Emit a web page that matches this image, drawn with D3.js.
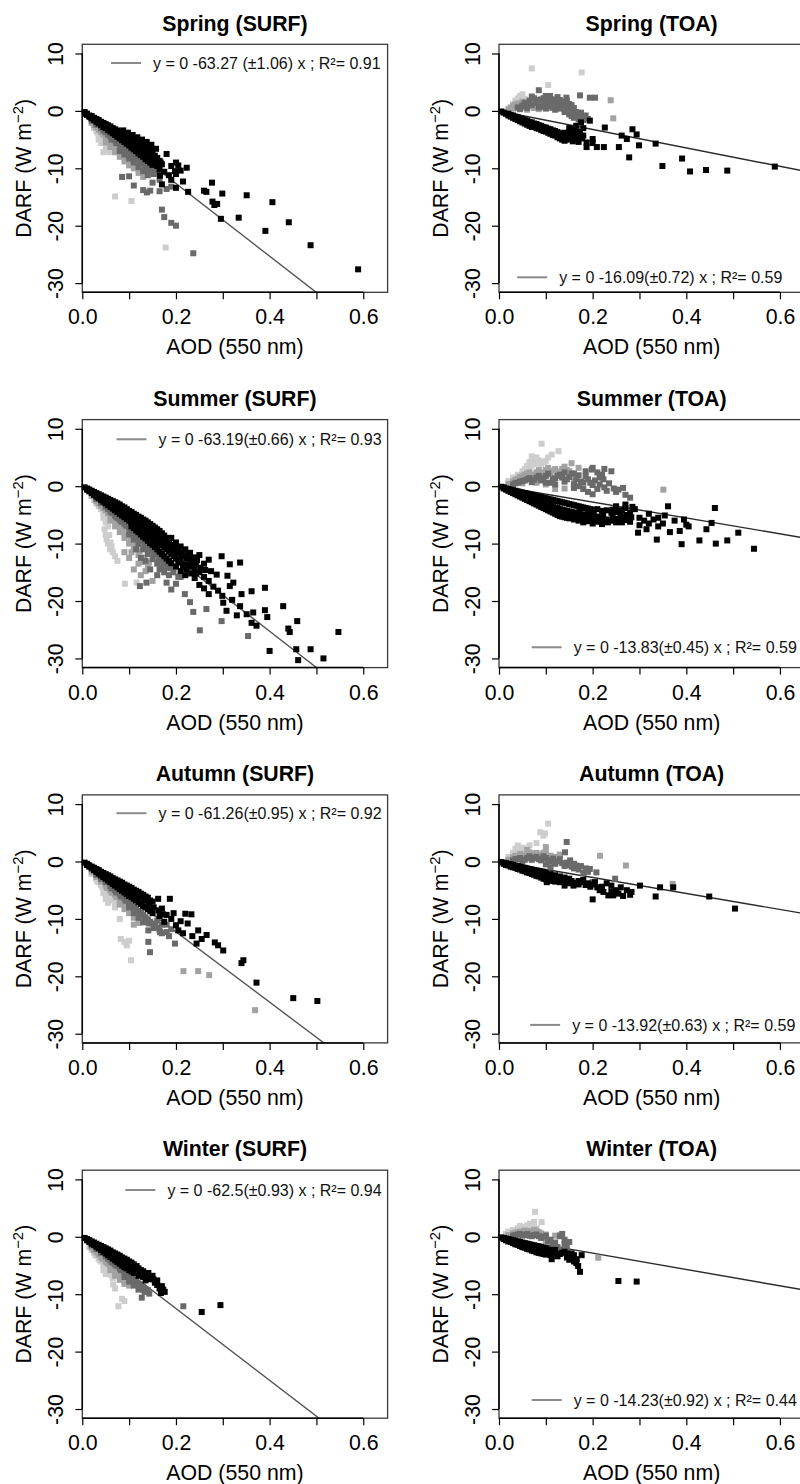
<!DOCTYPE html>
<html><head><meta charset="utf-8">
<script src="https://cdn.jsdelivr.net/npm/d3@7"></script>
<style>
body{margin:0;background:#fff;}
svg{display:block;font-family:"Liberation Sans",Arial,Helvetica,sans-serif;}
</style>
</head><body>
<svg id="chart" width="800" height="1484"></svg>
<script>
// ---------------- DATA ----------------
const seasons = ["Spring", "Summer", "Autumn", "Winter"];
const levels = ["SURF", "TOA"];
const slopes = [[-63.27, -16.09], [-63.19, -13.83], [-61.26, -13.92], [-62.5, -14.23]];
const legendLabels = [
  ["y = 0 -63.27 (±1.06) x ; R²= 0.91", "y = 0 -16.09(±0.72) x ; R²= 0.59"],
  ["y = 0 -63.19(±0.66) x ; R²= 0.93", "y = 0 -13.83(±0.45) x ; R²= 0.59"],
  ["y = 0 -61.26(±0.95) x ; R²= 0.92", "y = 0 -13.92(±0.63) x ; R²= 0.59"],
  ["y = 0 -62.5(±0.93) x ; R²= 0.94", "y = 0 -14.23(±0.92) x ; R²= 0.44"]
];
const xTicks = [0.0, 0.1, 0.2, 0.3, 0.4, 0.5, 0.6];
const xTickLabels = ["0.0", "", "0.2", "", "0.4", "", "0.6"];
const yTicks = [10, 0, -10, -20, -30];
const yTickLabels = ["10", "0", "-10", "-20", "-30"];
const xTitle = "AOD (550 nm)";
const yTitle = "DARF (W m";
const yTitleSup = "−2";

// groups: g1 = lightest grey, g2 = grey, g3 = dark grey, g4 = black
const springSurfG1 = [[0.025,-3.0],[0.03,-3.5],[0.035,-4.0],[0.04,-4.6],[0.045,-5.1],[0.05,-5.7],[0.055,-6.2],[0.06,-6.7],[0.04,-5.6],[0.05,-6.8],[0.035,-5.0],[0.045,-7.2],[0.07,-14.9],[0.105,-15.7],[0.178,-23.8],[0.0325,-3.8],[0.0425,-4.9],[0.0525,-6.0],[0.058,-7.2]];
const springSurfG2 = [[0.02,-2.1],[0.025,-2.5],[0.03,-2.9],[0.035,-3.3],[0.04,-3.7],[0.045,-4.1],[0.05,-4.5],[0.055,-4.9],[0.06,-5.3],[0.065,-5.7],[0.07,-6.1],[0.075,-6.5],[0.08,-6.9],[0.085,-7.4],[0.09,-7.8],[0.095,-8.2],[0.1,-8.6],[0.05,-5.5],[0.06,-6.3],[0.07,-7.2],[0.08,-8.0],[0.09,-8.8],[0.1,-9.5],[0.11,-10.0],[0.12,-10.8],[0.13,-11.5],[0.0525,-4.8],[0.0625,-5.6],[0.0725,-6.5],[0.0825,-7.3],[0.0925,-8.3],[0.1025,-9.0],[0.1125,-9.5]];
const springSurfG3 = [[0.02,-1.7],[0.03,-2.4],[0.04,-3.0],[0.045,-3.4],[0.05,-3.7],[0.055,-4.1],[0.06,-4.4],[0.065,-4.8],[0.07,-5.1],[0.075,-5.4],[0.08,-5.8],[0.085,-6.1],[0.09,-6.4],[0.095,-6.8],[0.1,-7.0],[0.105,-7.4],[0.11,-7.7],[0.115,-8.1],[0.12,-8.4],[0.125,-8.7],[0.13,-9.1],[0.135,-9.4],[0.14,-9.8],[0.145,-10.2],[0.15,-10.5],[0.155,-10.9],[0.08,-7.0],[0.09,-7.6],[0.1,-8.3],[0.11,-9.0],[0.12,-9.8],[0.13,-10.5],[0.14,-11.2],[0.085,-11.5],[0.1,-11.4],[0.11,-13.0],[0.13,-13.8],[0.138,-14.2],[0.145,-13.9],[0.165,-14.0],[0.18,-13.6],[0.19,-13.2],[0.17,-17.2],[0.175,-18.5],[0.19,-19.5],[0.2,-20.0],[0.237,-24.8],[0.165,-12.0],[0.15,-12.5],[0.0625,-5.0],[0.0725,-5.6],[0.0825,-6.3],[0.0925,-6.9],[0.1025,-7.6],[0.1125,-8.2],[0.1225,-8.9],[0.1325,-9.6],[0.1425,-10.4],[0.1525,-11.0],[0.16,-10.2],[0.165,-10.8],[0.155,-9.6],[0.145,-9.0],[0.135,-8.2]];
const springSurfG4 = [[0.005,-0.2],[0.01,-0.5],[0.01,-0.7],[0.015,-0.8],[0.015,-1.0],[0.02,-0.9],[0.02,-1.3],[0.025,-1.2],[0.025,-1.6],[0.03,-1.4],[0.03,-1.9],[0.035,-1.6],[0.035,-2.2],[0.04,-1.9],[0.04,-2.5],[0.045,-2.1],[0.045,-2.8],[0.05,-2.3],[0.05,-3.0],[0.055,-2.5],[0.055,-3.3],[0.06,-2.7],[0.06,-3.6],[0.065,-3.0],[0.065,-3.9],[0.07,-3.2],[0.07,-4.2],[0.075,-3.4],[0.075,-4.5],[0.08,-3.6],[0.08,-4.8],[0.085,-3.9],[0.085,-5.1],[0.09,-4.1],[0.09,-5.4],[0.09,-4.7],[0.095,-4.3],[0.095,-5.7],[0.1,-4.5],[0.1,-5.2],[0.1,-6.0],[0.105,-4.7],[0.105,-5.6],[0.105,-6.4],[0.11,-5.0],[0.11,-6.0],[0.11,-6.7],[0.115,-5.2],[0.115,-6.3],[0.115,-7.0],[0.12,-5.4],[0.12,-6.5],[0.12,-7.4],[0.125,-5.7],[0.125,-6.8],[0.125,-7.7],[0.13,-5.9],[0.13,-7.1],[0.13,-8.0],[0.135,-6.2],[0.135,-7.4],[0.135,-8.4],[0.14,-6.4],[0.14,-7.7],[0.14,-8.7],[0.145,-6.8],[0.145,-8.0],[0.145,-9.0],[0.15,-7.0],[0.15,-8.4],[0.15,-9.4],[0.155,-7.8],[0.155,-9.0],[0.16,-8.2],[0.16,-9.6],[0.165,-8.7],[0.165,-10.2],[0.17,-9.3],[0.18,-7.5],[0.19,-9.6],[0.2,-9.0],[0.205,-9.5],[0.21,-10.4],[0.223,-9.9],[0.198,-10.5],[0.2,-11.0],[0.166,-11.3],[0.175,-10.6],[0.185,-11.2],[0.19,-12.0],[0.226,-14.1],[0.2,-13.4],[0.26,-13.9],[0.265,-14.1],[0.277,-12.5],[0.278,-15.8],[0.282,-16.4],[0.288,-16.2],[0.296,-18.8],[0.299,-14.4],[0.334,-18.6],[0.351,-14.7],[0.391,-20.9],[0.406,-15.9],[0.441,-19.4],[0.4875,-23.4],[0.589,-27.6],[0.215,-12.3],[0.17,-12.8],[0.0075,-0.5],[0.0175,-1.1],[0.0275,-1.6],[0.0375,-2.0],[0.0475,-2.5],[0.0575,-2.9],[0.0675,-3.4],[0.0775,-3.9],[0.0875,-4.4],[0.0975,-5.0],[0.1075,-5.3],[0.1175,-5.8],[0.1275,-6.3],[0.1375,-6.8],[0.1475,-7.4],[0.0875,-3.4],[0.0975,-3.8],[0.1075,-4.2],[0.1175,-4.6],[0.1275,-5.0],[0.1375,-5.4],[0.1475,-5.9],[0.1575,-6.6],[0.1575,-8.5],[0.1675,-9.0]];

const springToaG1 = [[0.03,1.2],[0.035,1.8],[0.04,2.2],[0.045,2.6],[0.05,2.9],[0.055,2.1],[0.06,1.7],[0.04,1.5],[0.07,7.4],[0.105,4.5],[0.1765,6.7],[0.045,1.4],[0.05,2.2],[0.035,1.0]];
const springToaG2 = [[0.02,0.3],[0.025,0.6],[0.03,0.4],[0.03,0.9],[0.035,1.1],[0.04,1.3],[0.045,0.8],[0.05,1.6],[0.055,0.6],[0.06,1.2],[0.065,0.8],[0.07,1.5],[0.075,0.5],[0.08,0.9],[0.085,0.3],[0.09,1.3],[0.1,0.9],[0.11,0.5],[0.173,-1.2],[0.2385,1.85],[0.244,-1.3],[0.16,-0.3],[0.04,0.5],[0.05,0.7],[0.06,0.2],[0.065,1.4],[0.075,1.0],[0.085,1.1],[0.095,0.6]];
const springToaG3 = [[0.04,0.6],[0.05,0.9],[0.055,1.4],[0.06,0.5],[0.065,1.8],[0.07,1.0],[0.075,2.2],[0.08,1.4],[0.085,3.6],[0.09,0.8],[0.09,2.0],[0.095,1.2],[0.1,2.6],[0.1,0.4],[0.105,1.7],[0.109,2.6],[0.11,0.9],[0.115,1.5],[0.12,0.2],[0.12,2.0],[0.125,1.0],[0.13,0.4],[0.13,1.5],[0.135,0.9],[0.14,-0.2],[0.144,2.3],[0.145,0.6],[0.15,-0.6],[0.155,-0.9],[0.16,-1.2],[0.165,-0.5],[0.17,-1.5],[0.173,2.7],[0.18,-1.1],[0.194,2.3],[0.205,2.3],[0.15,1.2],[0.14,1.6],[0.045,0.3],[0.06,1.0],[0.07,2.5],[0.08,1.9],[0.085,0.6],[0.095,2.2],[0.1,1.5],[0.105,0.9],[0.11,2.0],[0.115,0.6],[0.12,1.4],[0.125,2.4],[0.13,1.9],[0.135,1.3],[0.14,0.9],[0.145,1.8],[0.15,0.4],[0.155,0.0],[0.155,1.0],[0.16,0.5],[0.165,-0.2],[0.17,-0.8],[0.175,-0.3],[0.18,-1.6],[0.185,-0.8],[0.19,-1.4]];
const springToaG4 = [[0.005,-0.1],[0.01,-0.3],[0.015,-0.5],[0.02,-0.5],[0.02,-0.8],[0.025,-0.7],[0.025,-1.0],[0.03,-0.8],[0.03,-1.2],[0.035,-1.0],[0.035,-1.4],[0.04,-1.1],[0.04,-1.6],[0.045,-1.3],[0.045,-1.8],[0.05,-1.4],[0.05,-2.0],[0.055,-1.6],[0.055,-2.2],[0.06,-1.7],[0.06,-2.4],[0.065,-1.9],[0.065,-2.6],[0.07,-2.0],[0.07,-2.8],[0.075,-2.2],[0.075,-2.6],[0.08,-2.3],[0.08,-3.0],[0.085,-2.5],[0.085,-3.1],[0.09,-2.6],[0.09,-3.3],[0.095,-2.8],[0.095,-3.5],[0.1,-2.9],[0.1,-3.6],[0.105,-3.1],[0.105,-3.8],[0.11,-3.2],[0.11,-4.0],[0.115,-3.4],[0.115,-4.2],[0.12,-3.5],[0.12,-4.3],[0.125,-3.7],[0.125,-4.6],[0.13,-3.9],[0.13,-4.8],[0.135,-4.1],[0.135,-5.0],[0.14,-3.8],[0.14,-5.2],[0.145,-4.4],[0.15,-4.0],[0.15,-5.0],[0.155,-4.6],[0.16,-3.2],[0.16,-4.4],[0.165,-2.6],[0.17,-3.6],[0.173,-3.8],[0.18,-4.3],[0.187,-5.5],[0.187,-6.3],[0.194,-1.7],[0.2,-4.9],[0.209,-6.3],[0.2,-5.6],[0.224,-6.3],[0.226,-2.9],[0.256,-6.3],[0.262,-4.3],[0.273,-4.9],[0.278,-8.1],[0.285,-3.2],[0.294,-4.1],[0.299,-6.0],[0.3345,-5.7],[0.349,-9.6],[0.391,-8.3],[0.408,-10.55],[0.442,-10.3],[0.4875,-10.4],[0.589,-9.7],[0.18,-3.0],[0.165,-4.9],[0.175,-2.0],[0.0325,-1.1],[0.0425,-1.4],[0.0525,-1.7],[0.0625,-2.0],[0.0725,-2.4],[0.0825,-2.7],[0.0925,-3.0],[0.1025,-3.3],[0.1125,-3.6],[0.1225,-3.9],[0.1325,-4.3],[0.1425,-4.5],[0.1525,-4.8],[0.1575,-5.3],[0.1625,-3.8],[0.1675,-4.2],[0.1775,-4.8],[0.15,-3.0],[0.16,-5.0],[0.17,-5.4]];

const summerSurfG1 = [[0.025,-2.4],[0.03,-3.0],[0.035,-3.5],[0.04,-4.0],[0.045,-4.6],[0.05,-5.2],[0.055,-5.8],[0.045,-5.5],[0.05,-6.3],[0.055,-7.0],[0.05,-8.5],[0.052,-9.3],[0.055,-10.0],[0.059,-11.0],[0.065,-11.5],[0.07,-12.2],[0.06,-9.8],[0.091,-17.0],[0.116,-16.8],[0.075,-13.0],[0.0475,-7.5],[0.0575,-8.5],[0.0625,-10.5]];
const summerSurfG2 = [[0.02,-1.7],[0.03,-2.6],[0.035,-3.0],[0.04,-3.4],[0.045,-3.8],[0.05,-4.2],[0.055,-4.7],[0.06,-5.1],[0.065,-5.5],[0.07,-5.9],[0.075,-6.4],[0.08,-6.8],[0.085,-7.2],[0.09,-7.7],[0.095,-8.1],[0.1,-8.6],[0.105,-9.0],[0.11,-9.5],[0.06,-6.0],[0.07,-7.0],[0.08,-8.0],[0.09,-9.0],[0.1,-10.0],[0.11,-11.0],[0.12,-12.0],[0.13,-13.2],[0.14,-14.0],[0.1,-12.5],[0.11,-14.5],[0.125,-15.5],[0.15,-16.5],[0.09,-11.5],[0.0625,-5.7],[0.0725,-6.5],[0.0825,-7.4],[0.0925,-8.3],[0.1025,-9.3],[0.1125,-10.3],[0.1225,-11.3],[0.1325,-12.4],[0.1425,-13.3],[0.105,-11.5],[0.12,-13.5],[0.135,-14.8]];
const summerSurfG3 = [[0.03,-2.2],[0.04,-2.9],[0.05,-3.6],[0.055,-4.0],[0.06,-4.4],[0.065,-4.7],[0.07,-5.1],[0.075,-5.5],[0.08,-5.8],[0.085,-6.2],[0.09,-6.5],[0.095,-6.9],[0.1,-7.2],[0.105,-7.6],[0.11,-8.0],[0.115,-8.4],[0.12,-8.8],[0.125,-9.1],[0.13,-9.5],[0.135,-9.9],[0.14,-10.3],[0.145,-10.7],[0.15,-11.0],[0.155,-11.4],[0.16,-11.8],[0.165,-12.2],[0.17,-12.5],[0.175,-13.0],[0.18,-13.5],[0.19,-14.3],[0.1,-8.4],[0.11,-9.3],[0.12,-10.1],[0.13,-11.0],[0.14,-11.8],[0.15,-12.7],[0.16,-13.5],[0.17,-14.4],[0.115,-11.0],[0.125,-12.5],[0.135,-13.0],[0.145,-14.5],[0.16,-15.5],[0.18,-16.8],[0.19,-18.0],[0.137,-16.8],[0.123,-17.4],[0.219,-18.8],[0.237,-21.9],[0.251,-25.1],[0.265,-21.4],[0.2975,-23.5],[0.354,-26.1],[0.2,-17.0],[0.21,-15.8],[0.23,-20.2],[0.0625,-4.6],[0.0725,-5.3],[0.0825,-6.0],[0.0925,-6.7],[0.1025,-7.8],[0.1125,-8.6],[0.1225,-9.4],[0.1325,-10.2],[0.1425,-11.0],[0.1525,-11.8],[0.1625,-12.6],[0.1725,-13.4],[0.1825,-14.2],[0.195,-15.0],[0.205,-15.8],[0.185,-15.5],[0.175,-15.0],[0.165,-14.5]];
const summerSurfG4 = [[0.005,-0.2],[0.01,-0.4],[0.01,-0.6],[0.015,-0.6],[0.015,-0.9],[0.02,-0.8],[0.02,-1.2],[0.025,-1.0],[0.025,-1.5],[0.03,-1.2],[0.03,-1.8],[0.035,-1.4],[0.035,-2.1],[0.04,-1.6],[0.04,-2.4],[0.045,-1.8],[0.045,-2.7],[0.05,-2.0],[0.05,-3.0],[0.055,-2.2],[0.055,-3.3],[0.06,-2.4],[0.06,-3.6],[0.065,-2.6],[0.065,-3.9],[0.07,-2.8],[0.07,-4.2],[0.075,-3.0],[0.075,-4.5],[0.08,-3.2],[0.08,-4.8],[0.085,-3.5],[0.085,-5.1],[0.085,-4.3],[0.09,-3.7],[0.09,-5.4],[0.09,-4.5],[0.095,-4.0],[0.095,-5.7],[0.095,-4.8],[0.1,-4.3],[0.1,-6.0],[0.1,-5.1],[0.105,-4.5],[0.105,-6.3],[0.105,-5.4],[0.105,-7.0],[0.11,-4.8],[0.11,-6.6],[0.11,-5.7],[0.11,-7.3],[0.115,-5.0],[0.115,-6.9],[0.115,-6.0],[0.115,-7.7],[0.12,-5.3],[0.12,-7.2],[0.12,-6.3],[0.12,-8.0],[0.125,-5.5],[0.125,-7.5],[0.125,-6.6],[0.125,-8.4],[0.13,-5.8],[0.13,-7.8],[0.13,-6.9],[0.13,-8.8],[0.135,-6.0],[0.135,-8.1],[0.135,-7.2],[0.135,-9.1],[0.14,-6.3],[0.14,-8.4],[0.14,-7.5],[0.14,-9.5],[0.145,-6.6],[0.145,-8.7],[0.145,-7.8],[0.145,-9.9],[0.15,-6.9],[0.15,-9.0],[0.15,-8.1],[0.15,-10.2],[0.155,-7.2],[0.155,-9.3],[0.155,-8.4],[0.155,-10.6],[0.16,-7.5],[0.16,-9.6],[0.16,-8.7],[0.16,-11.0],[0.165,-7.8],[0.165,-10.0],[0.165,-9.0],[0.165,-11.4],[0.17,-8.2],[0.17,-10.3],[0.17,-9.4],[0.17,-11.8],[0.175,-8.6],[0.175,-10.7],[0.175,-12.2],[0.18,-9.0],[0.18,-11.0],[0.18,-12.6],[0.185,-9.4],[0.185,-11.4],[0.185,-13.0],[0.19,-9.0],[0.19,-11.8],[0.19,-13.4],[0.195,-10.2],[0.195,-12.2],[0.2,-9.8],[0.2,-12.6],[0.2,-14.0],[0.21,-10.5],[0.21,-13.0],[0.21,-14.8],[0.22,-11.0],[0.22,-13.6],[0.22,-15.5],[0.23,-11.6],[0.23,-14.0],[0.23,-12.6],[0.24,-12.4],[0.24,-14.5],[0.24,-16.0],[0.25,-12.0],[0.25,-15.0],[0.25,-17.2],[0.26,-13.5],[0.26,-15.8],[0.27,-12.8],[0.27,-16.5],[0.2975,-12.2],[0.315,-13.6],[0.337,-13.3],[0.287,-15.4],[0.28,-17.5],[0.29,-18.2],[0.299,-19.1],[0.301,-20.3],[0.308,-21.7],[0.315,-17.4],[0.3225,-16.8],[0.337,-20.9],[0.34,-18.8],[0.351,-22.3],[0.3615,-18.3],[0.3615,-23.8],[0.365,-22.0],[0.372,-24.3],[0.39,-17.7],[0.39,-21.6],[0.395,-22.8],[0.4,-28.7],[0.429,-20.9],[0.44,-24.8],[0.443,-25.4],[0.457,-28.4],[0.459,-23.5],[0.461,-30.3],[0.4875,-28.4],[0.515,-30.0],[0.547,-25.4],[0.32,-19.8],[0.33,-22.5],[0.27,-18.8],[0.26,-17.8],[0.245,-12.9],[0.275,-14.8],[0.31,-15.6],[0.2,-11.5],[0.0125,-0.6],[0.0225,-1.1],[0.0325,-1.6],[0.0425,-2.1],[0.0525,-2.6],[0.0625,-3.1],[0.0725,-3.6],[0.0825,-4.1],[0.0925,-4.8],[0.1025,-5.4],[0.1125,-6.0],[0.1225,-6.6],[0.1325,-7.3],[0.1425,-8.0],[0.1525,-8.6],[0.1625,-9.3],[0.1725,-10.0],[0.1825,-10.5],[0.1925,-11.0],[0.2025,-11.6],[0.2125,-12.1],[0.2225,-12.6],[0.2325,-13.2],[0.2425,-13.5],[0.2525,-14.2],[0.2625,-14.6],[0.1725,-8.8],[0.1825,-9.8],[0.1925,-10.4],[0.2025,-10.6],[0.2125,-11.5],[0.2225,-14.5],[0.2325,-15.2],[0.2425,-15.2],[0.205,-13.3],[0.215,-14.0],[0.225,-12.0],[0.235,-13.8]];

const summerToaG1 = [[0.02,0.9],[0.03,1.5],[0.04,2.0],[0.05,2.6],[0.06,3.5],[0.065,4.2],[0.07,3.6],[0.075,4.6],[0.08,4.0],[0.085,4.5],[0.09,3.8],[0.1,4.4],[0.091,7.4],[0.1125,5.5],[0.127,6.1],[0.06,2.8],[0.055,3.0],[0.065,3.3],[0.075,3.9],[0.085,4.0],[0.095,4.2],[0.07,5.2],[0.08,5.0],[0.105,5.0]];
const summerToaG2 = [[0.02,0.4],[0.03,0.8],[0.04,1.3],[0.05,1.8],[0.05,0.5],[0.06,2.2],[0.07,1.6],[0.08,2.4],[0.09,1.9],[0.1,2.8],[0.11,2.1],[0.12,3.0],[0.13,2.5],[0.14,3.4],[0.15,2.6],[0.155,4.0],[0.16,1.0],[0.17,3.2],[0.351,-0.6],[0.08,0.6],[0.1,0.3],[0.12,-0.5],[0.14,-0.4],[0.035,1.1],[0.045,1.6],[0.055,2.0],[0.065,2.4],[0.075,2.0],[0.085,2.8],[0.095,2.4],[0.105,3.2],[0.115,2.7],[0.125,2.5],[0.135,3.0],[0.145,2.8]];
const summerToaG3 = [[0.03,0.3],[0.04,0.6],[0.05,0.9],[0.06,1.2],[0.07,0.7],[0.08,1.5],[0.09,1.0],[0.1,1.8],[0.11,0.6],[0.12,1.4],[0.13,2.0],[0.14,0.8],[0.15,1.6],[0.16,0.3],[0.17,1.9],[0.18,0.6],[0.19,1.2],[0.198,2.9],[0.2,0.2],[0.21,-0.5],[0.215,1.5],[0.223,1.2],[0.23,-0.8],[0.24,2.6],[0.25,-1.0],[0.265,-0.3],[0.27,-1.5],[0.28,-2.0],[0.1,0.6],[0.12,0.3],[0.14,2.4],[0.16,2.2],[0.18,-0.5],[0.19,-1.0],[0.2,-1.4],[0.035,0.5],[0.045,0.8],[0.055,1.0],[0.065,1.4],[0.075,1.1],[0.085,1.8],[0.095,1.4],[0.105,2.2],[0.115,1.2],[0.125,1.8],[0.135,1.5],[0.145,1.2],[0.155,2.2],[0.165,1.2],[0.175,0.8],[0.185,1.7],[0.195,0.6],[0.205,1.0],[0.215,0.3],[0.225,-0.2],[0.235,0.5],[0.245,-0.4],[0.255,-0.6],[0.16,-0.3],[0.17,0.0],[0.22,2.0],[0.21,2.4],[0.185,2.6],[0.2,3.2],[0.225,3.0]];
const summerToaG4 = [[0.005,-0.1],[0.01,-0.2],[0.01,-0.4],[0.015,-0.4],[0.015,-0.6],[0.02,-0.5],[0.02,-0.8],[0.025,-0.6],[0.025,-1.0],[0.03,-0.7],[0.03,-1.2],[0.035,-0.8],[0.035,-1.4],[0.04,-0.9],[0.04,-1.6],[0.045,-1.0],[0.045,-1.8],[0.05,-1.1],[0.05,-2.0],[0.055,-1.2],[0.055,-2.2],[0.06,-1.3],[0.06,-2.4],[0.06,-1.8],[0.065,-1.4],[0.065,-2.6],[0.07,-1.5],[0.07,-2.8],[0.07,-2.1],[0.075,-1.6],[0.075,-3.0],[0.08,-1.7],[0.08,-3.2],[0.08,-2.4],[0.085,-1.8],[0.085,-3.4],[0.09,-1.9],[0.09,-3.6],[0.09,-2.7],[0.095,-2.0],[0.095,-3.8],[0.1,-2.1],[0.1,-4.0],[0.1,-3.0],[0.105,-2.2],[0.105,-4.2],[0.105,-3.2],[0.11,-2.3],[0.11,-4.4],[0.11,-3.4],[0.115,-2.4],[0.115,-4.6],[0.115,-3.5],[0.12,-2.5],[0.12,-4.8],[0.12,-3.7],[0.125,-2.6],[0.125,-5.0],[0.125,-3.8],[0.13,-2.7],[0.13,-5.2],[0.13,-4.0],[0.135,-2.8],[0.135,-5.3],[0.135,-4.1],[0.14,-2.9],[0.14,-5.4],[0.14,-4.2],[0.145,-3.0],[0.145,-5.5],[0.145,-4.3],[0.15,-3.1],[0.15,-5.6],[0.15,-4.4],[0.155,-3.2],[0.155,-5.4],[0.155,-4.5],[0.16,-3.3],[0.16,-5.8],[0.16,-4.6],[0.165,-3.4],[0.165,-5.2],[0.17,-3.5],[0.17,-6.0],[0.17,-4.7],[0.175,-3.6],[0.175,-5.5],[0.18,-3.7],[0.18,-6.3],[0.18,-4.9],[0.185,-3.8],[0.185,-5.3],[0.19,-3.9],[0.19,-6.1],[0.19,-5.0],[0.195,-4.0],[0.195,-5.6],[0.2,-4.1],[0.2,-6.5],[0.2,-5.0],[0.21,-4.0],[0.21,-6.2],[0.21,-5.3],[0.22,-4.3],[0.22,-6.6],[0.22,-5.5],[0.23,-4.2],[0.23,-5.8],[0.24,-4.6],[0.24,-6.0],[0.25,-4.5],[0.25,-6.3],[0.25,-3.5],[0.26,-4.8],[0.26,-5.5],[0.27,-3.8],[0.27,-5.9],[0.28,-4.6],[0.28,-6.2],[0.297,-8.1],[0.315,-7.5],[0.33,-5.8],[0.337,-9.3],[0.34,-7.0],[0.354,-5.1],[0.361,-3.5],[0.365,-8.0],[0.386,-7.8],[0.39,-10.1],[0.4,-6.7],[0.405,-7.0],[0.428,-9.45],[0.443,-7.5],[0.454,-6.4],[0.461,-3.8],[0.463,-10.0],[0.4875,-9.45],[0.511,-8.1],[0.5445,-10.9],[0.29,-4.0],[0.3,-5.5],[0.31,-6.0],[0.32,-6.5],[0.35,-6.5],[0.375,-6.0],[0.395,-5.8],[0.27,-3.2],[0.285,-3.6],[0.0325,-0.9],[0.0425,-1.2],[0.0525,-1.5],[0.0625,-1.9],[0.0725,-2.2],[0.0825,-2.6],[0.0925,-2.9],[0.1025,-3.4],[0.1125,-3.7],[0.1225,-4.2],[0.1325,-4.5],[0.1425,-4.8],[0.1525,-5.0],[0.1625,-5.2],[0.1725,-5.4],[0.1825,-5.6],[0.1925,-5.8],[0.2025,-6.0],[0.2125,-5.8],[0.2225,-6.1],[0.2325,-6.3],[0.2425,-5.3],[0.2525,-5.7],[0.2625,-6.3],[0.2725,-5.0],[0.2825,-5.4],[0.2025,-4.6],[0.2225,-4.9],[0.2425,-4.1],[0.1725,-4.2],[0.1925,-4.5],[0.2625,-4.2],[0.3,-6.8],[0.32,-4.8],[0.34,-5.5]];

const autumnSurfG1 = [[0.02,-2.2],[0.03,-3.1],[0.035,-3.6],[0.04,-4.1],[0.045,-4.6],[0.05,-5.2],[0.055,-5.7],[0.06,-6.3],[0.065,-6.8],[0.045,-5.5],[0.05,-6.5],[0.055,-7.2],[0.08,-10.0],[0.082,-13.5],[0.09,-14.0],[0.1,-13.8],[0.095,-14.6],[0.104,-17.2],[0.07,-8.0],[0.0325,-3.5],[0.0425,-4.5],[0.0525,-5.6],[0.0625,-6.7],[0.07,-7.3]];
const autumnSurfG2 = [[0.02,-1.8],[0.03,-2.7],[0.04,-3.5],[0.05,-4.2],[0.055,-4.6],[0.06,-5.0],[0.065,-5.4],[0.07,-5.8],[0.075,-6.2],[0.08,-6.6],[0.085,-7.0],[0.09,-7.4],[0.095,-7.8],[0.1,-8.2],[0.08,-7.5],[0.09,-8.3],[0.1,-9.0],[0.11,-9.8],[0.12,-10.7],[0.216,-19.1],[0.2475,-19.1],[0.271,-19.8],[0.369,-25.9],[0.11,-11.0],[0.0525,-4.6],[0.0625,-5.4],[0.0725,-6.2],[0.0825,-7.0],[0.0925,-7.9],[0.1025,-8.6]];
const autumnSurfG3 = [[0.03,-2.3],[0.04,-3.0],[0.05,-3.6],[0.06,-4.3],[0.065,-4.6],[0.07,-5.0],[0.075,-5.3],[0.08,-5.7],[0.085,-6.0],[0.09,-6.4],[0.095,-6.8],[0.1,-7.1],[0.105,-7.5],[0.11,-7.9],[0.115,-8.2],[0.12,-8.6],[0.125,-9.0],[0.13,-9.3],[0.135,-9.7],[0.14,-10.1],[0.145,-10.5],[0.15,-10.8],[0.155,-11.2],[0.16,-11.5],[0.165,-12.0],[0.17,-11.0],[0.18,-12.3],[0.19,-11.8],[0.198,-14.3],[0.141,-12.0],[0.141,-14.0],[0.1445,-15.8],[0.166,-12.3],[0.185,-13.0],[0.1,-8.0],[0.11,-9.0],[0.12,-9.8],[0.13,-10.6],[0.0625,-4.7],[0.0725,-5.4],[0.0825,-6.1],[0.0925,-6.8],[0.1025,-7.6],[0.1125,-8.4],[0.1225,-9.2],[0.1325,-10.0],[0.1425,-10.8],[0.1525,-11.6],[0.16,-10.3],[0.17,-12.5],[0.18,-11.0]];
const autumnSurfG4 = [[0.005,-0.2],[0.01,-0.4],[0.01,-0.6],[0.015,-0.7],[0.015,-0.9],[0.02,-0.9],[0.02,-1.2],[0.025,-1.1],[0.025,-1.5],[0.03,-1.3],[0.03,-1.8],[0.035,-1.5],[0.035,-2.1],[0.04,-1.8],[0.04,-2.4],[0.045,-2.0],[0.045,-2.7],[0.05,-2.2],[0.05,-3.0],[0.055,-2.4],[0.055,-3.3],[0.06,-2.6],[0.06,-3.6],[0.065,-2.9],[0.065,-3.9],[0.07,-3.1],[0.07,-4.2],[0.075,-3.3],[0.075,-4.5],[0.08,-3.5],[0.08,-4.8],[0.085,-3.7],[0.085,-5.1],[0.09,-4.0],[0.09,-5.4],[0.095,-4.2],[0.095,-5.7],[0.1,-4.4],[0.1,-6.0],[0.105,-4.6],[0.105,-6.2],[0.11,-4.9],[0.11,-6.5],[0.115,-5.1],[0.115,-6.8],[0.12,-5.3],[0.12,-7.1],[0.125,-5.6],[0.125,-7.4],[0.13,-5.8],[0.13,-7.8],[0.135,-6.1],[0.135,-8.0],[0.14,-6.3],[0.14,-8.3],[0.145,-6.8],[0.145,-8.6],[0.15,-7.0],[0.15,-9.0],[0.162,-6.5],[0.187,-6.5],[0.17,-8.2],[0.18,-9.3],[0.19,-10.0],[0.2,-11.1],[0.21,-10.4],[0.22,-9.1],[0.233,-9.2],[0.225,-10.8],[0.244,-14.3],[0.2475,-12.0],[0.2655,-12.8],[0.283,-14.1],[0.29,-14.6],[0.301,-15.5],[0.34,-17.7],[0.344,-17.2],[0.372,-21.1],[0.4505,-23.8],[0.502,-24.3],[0.165,-9.5],[0.175,-10.5],[0.195,-9.0],[0.205,-12.0],[0.215,-12.5],[0.235,-13.0],[0.255,-13.5],[0.0125,-0.6],[0.0225,-1.1],[0.0325,-1.6],[0.0425,-2.1],[0.0525,-2.6],[0.0625,-3.1],[0.0725,-3.6],[0.0825,-4.1],[0.0925,-4.7],[0.1025,-5.2],[0.1125,-5.7],[0.1225,-6.2],[0.1325,-6.8],[0.1425,-7.3],[0.1525,-8.0],[0.1625,-8.5],[0.1725,-9.2]];

const autumnToaG1 = [[0.02,0.8],[0.03,1.5],[0.035,2.2],[0.04,2.8],[0.045,1.8],[0.05,2.4],[0.055,1.6],[0.06,2.2],[0.065,2.8],[0.088,5.1],[0.095,4.5],[0.098,4.9],[0.105,6.6],[0.08,3.2]];
const autumnToaG2 = [[0.02,0.3],[0.03,0.7],[0.04,1.0],[0.05,0.8],[0.06,1.3],[0.07,1.0],[0.08,1.5],[0.09,1.1],[0.1,1.6],[0.11,1.0],[0.12,0.8],[0.13,1.2],[0.1,2.5],[0.2157,1.0],[0.271,-0.7],[0.3708,-3.9],[0.06,2.0],[0.035,1.0],[0.045,1.3],[0.055,1.1],[0.065,1.6],[0.075,1.4],[0.085,1.2],[0.095,1.5]];
const autumnToaG3 = [[0.03,0.2],[0.04,0.4],[0.05,0.1],[0.06,0.6],[0.07,0.3],[0.08,0.8],[0.09,0.2],[0.1,0.6],[0.11,0.0],[0.12,-0.4],[0.13,0.4],[0.14,-0.8],[0.141,1.6],[0.1445,3.4],[0.152,0.2],[0.16,-1.2],[0.17,-1.4],[0.175,-0.8],[0.18,-2.0],[0.194,-1.3],[0.2,-3.6],[0.208,-1.9],[0.15,-0.6],[0.16,-0.4],[0.248,-3.0],[0.1,-0.5],[0.11,-1.0],[0.035,0.4],[0.045,0.6],[0.055,0.3],[0.065,0.9],[0.075,0.6],[0.085,0.4],[0.095,0.9],[0.105,0.2],[0.115,0.5],[0.125,0.0],[0.135,-0.3],[0.145,-0.2],[0.155,-0.9],[0.165,-0.7],[0.185,-1.2],[0.19,-1.8]];
const autumnToaG4 = [[0.005,-0.1],[0.01,-0.2],[0.01,-0.4],[0.015,-0.3],[0.015,-0.6],[0.02,-0.4],[0.02,-0.7],[0.025,-0.5],[0.025,-0.9],[0.03,-0.6],[0.03,-1.0],[0.035,-0.7],[0.035,-1.1],[0.04,-0.8],[0.04,-1.3],[0.045,-0.9],[0.045,-1.4],[0.05,-1.0],[0.05,-1.6],[0.055,-1.1],[0.055,-1.7],[0.06,-1.2],[0.06,-1.9],[0.065,-1.3],[0.065,-2.0],[0.07,-1.4],[0.07,-2.2],[0.075,-1.5],[0.075,-2.3],[0.08,-1.6],[0.08,-2.5],[0.085,-1.7],[0.085,-2.6],[0.09,-1.8],[0.09,-2.8],[0.095,-1.9],[0.095,-3.0],[0.1,-2.0],[0.1,-3.1],[0.102,-3.6],[0.11,-2.2],[0.11,-3.4],[0.12,-2.4],[0.12,-3.5],[0.13,-2.6],[0.13,-3.6],[0.14,-2.8],[0.14,-4.2],[0.15,-3.0],[0.15,-3.8],[0.159,-4.2],[0.17,-3.4],[0.17,-4.0],[0.18,-3.2],[0.19,-3.8],[0.2,-6.6],[0.2,-4.0],[0.21,-4.5],[0.223,-5.3],[0.2335,-5.9],[0.244,-5.9],[0.255,-5.6],[0.273,-5.0],[0.283,-5.3],[0.301,-4.2],[0.3345,-6.1],[0.344,-4.5],[0.372,-4.5],[0.449,-6.1],[0.504,-8.2],[0.24,-4.2],[0.23,-3.8],[0.26,-4.5],[0.215,-5.0],[0.25,-5.0],[0.265,-6.0],[0.28,-5.8],[0.125,-3.0],[0.135,-3.4],[0.145,-3.6],[0.0325,-0.8],[0.0425,-1.1],[0.0525,-1.3],[0.0625,-1.6],[0.0725,-1.8],[0.0825,-2.1],[0.0925,-2.3],[0.1025,-2.6],[0.115,-2.8],[0.125,-3.3],[0.135,-3.0],[0.145,-3.2],[0.155,-3.4],[0.165,-3.7],[0.175,-3.6],[0.185,-4.1],[0.195,-4.4],[0.205,-3.6],[0.22,-4.4],[0.24,-5.2]];

const winterSurfG1 = [[0.015,-1.8],[0.02,-2.3],[0.025,-2.8],[0.03,-3.3],[0.035,-3.8],[0.04,-4.3],[0.045,-4.8],[0.05,-5.4],[0.055,-6.0],[0.06,-6.6],[0.066,-8.3],[0.077,-12.1],[0.085,-10.8],[0.09,-11.2],[0.045,-5.8],[0.05,-6.5],[0.0275,-3.1],[0.0375,-4.1],[0.0475,-5.1],[0.0575,-6.3],[0.065,-7.2],[0.07,-9.0]];
const winterSurfG2 = [[0.02,-1.9],[0.025,-2.3],[0.03,-2.7],[0.035,-3.1],[0.04,-3.5],[0.045,-3.9],[0.05,-4.3],[0.055,-4.7],[0.06,-5.1],[0.065,-5.5],[0.07,-5.9],[0.075,-6.3],[0.08,-6.7],[0.085,-7.1],[0.09,-7.6],[0.06,-5.8],[0.07,-6.8],[0.08,-7.5],[0.1,-8.5],[0.0425,-3.7],[0.0525,-4.5],[0.0625,-5.3],[0.0725,-6.1],[0.0825,-7.0],[0.09,-8.2]];
const winterSurfG3 = [[0.02,-1.5],[0.03,-2.1],[0.04,-2.8],[0.05,-3.4],[0.055,-3.8],[0.06,-4.1],[0.065,-4.5],[0.07,-4.8],[0.075,-5.1],[0.08,-5.5],[0.085,-5.8],[0.09,-6.1],[0.095,-6.5],[0.1,-6.8],[0.105,-7.2],[0.11,-7.5],[0.115,-7.8],[0.12,-8.2],[0.125,-8.5],[0.13,-8.8],[0.135,-9.1],[0.14,-9.3],[0.127,-10.6],[0.143,-9.9],[0.133,-9.6],[0.2157,-12.1],[0.09,-7.0],[0.1,-7.8],[0.11,-8.5],[0.12,-9.2],[0.0625,-4.4],[0.0725,-5.0],[0.0825,-5.8],[0.0925,-6.4],[0.1025,-7.3],[0.1125,-8.0],[0.1225,-8.7],[0.13,-9.2]];
const winterSurfG4 = [[0.005,-0.2],[0.01,-0.4],[0.01,-0.6],[0.015,-0.6],[0.015,-0.9],[0.02,-0.8],[0.02,-1.2],[0.025,-1.0],[0.025,-1.4],[0.03,-1.2],[0.03,-1.7],[0.035,-1.4],[0.035,-2.0],[0.04,-1.6],[0.04,-2.3],[0.045,-1.8],[0.045,-2.6],[0.05,-2.0],[0.05,-2.9],[0.055,-2.2],[0.055,-3.2],[0.06,-2.4],[0.06,-3.5],[0.065,-2.7],[0.065,-3.8],[0.07,-2.9],[0.07,-4.1],[0.075,-3.1],[0.075,-4.4],[0.08,-3.3],[0.08,-4.7],[0.085,-3.6],[0.085,-5.0],[0.09,-3.8],[0.09,-5.3],[0.095,-4.0],[0.095,-5.5],[0.1,-4.3],[0.1,-5.8],[0.105,-4.5],[0.105,-6.0],[0.11,-4.8],[0.11,-6.3],[0.116,-5.1],[0.12,-5.5],[0.12,-6.8],[0.125,-5.8],[0.13,-6.0],[0.13,-7.0],[0.141,-6.3],[0.145,-7.4],[0.152,-7.4],[0.155,-8.0],[0.16,-8.4],[0.17,-8.6],[0.176,-9.6],[0.173,-9.2],[0.168,-9.8],[0.255,-13.1],[0.295,-11.9],[0.15,-6.8],[0.135,-7.6],[0.0125,-0.6],[0.0225,-1.1],[0.0325,-1.5],[0.0425,-2.0],[0.0525,-2.4],[0.0625,-2.9],[0.0725,-3.5],[0.0825,-4.0],[0.0925,-4.5],[0.1025,-5.0],[0.1125,-5.5],[0.1225,-6.1],[0.1325,-6.5],[0.1425,-7.0],[0.16,-7.6],[0.165,-9.0]];

const winterToaG1 = [[0.015,0.5],[0.02,0.9],[0.03,1.2],[0.04,1.5],[0.05,1.7],[0.055,1.4],[0.06,2.0],[0.066,2.3],[0.07,1.8],[0.077,4.35],[0.091,2.55],[0.08,1.5],[0.045,1.9],[0.065,1.7],[0.075,2.6]];
const winterToaG2 = [[0.02,0.3],[0.03,0.6],[0.04,0.8],[0.05,0.9],[0.06,1.0],[0.07,0.8],[0.08,1.0],[0.09,0.6],[0.1,0.4],[0.12,0.2],[0.13,0.3],[0.212,-3.65],[0.1,-1.0],[0.035,0.7],[0.045,0.9],[0.055,1.1],[0.065,0.9],[0.075,1.2],[0.085,0.8]];
const winterToaG3 = [[0.03,0.2],[0.04,0.4],[0.05,0.2],[0.06,0.5],[0.07,0.1],[0.08,0.4],[0.09,-0.2],[0.1,0.2],[0.11,-0.5],[0.12,-1.0],[0.125,-1.8],[0.13,0.1],[0.14,-1.3],[0.145,-1.9],[0.135,0.5],[0.115,-2.6],[0.12,-3.3],[0.105,-0.8],[0.035,0.3],[0.045,0.5],[0.055,0.3],[0.065,0.2],[0.075,0.3],[0.085,0.1],[0.095,0.0],[0.115,-1.2],[0.13,-2.2],[0.14,-0.5],[0.15,-0.9]];
const winterToaG4 = [[0.005,-0.1],[0.01,-0.2],[0.01,-0.4],[0.015,-0.3],[0.015,-0.6],[0.02,-0.4],[0.02,-0.8],[0.025,-0.5],[0.025,-0.9],[0.03,-0.6],[0.03,-1.1],[0.035,-0.7],[0.035,-1.3],[0.04,-0.8],[0.04,-1.4],[0.045,-0.9],[0.045,-1.6],[0.05,-1.0],[0.05,-1.8],[0.055,-1.1],[0.055,-1.9],[0.06,-1.2],[0.06,-2.1],[0.065,-1.3],[0.065,-2.2],[0.07,-1.4],[0.07,-2.4],[0.075,-1.5],[0.075,-2.5],[0.08,-1.6],[0.08,-2.7],[0.085,-1.7],[0.085,-2.8],[0.09,-1.8],[0.09,-2.9],[0.095,-1.9],[0.095,-3.0],[0.1,-2.0],[0.1,-3.1],[0.105,-2.2],[0.11,-2.3],[0.11,-3.2],[0.1125,-3.9],[0.13,-3.0],[0.14,-2.6],[0.15,-3.4],[0.155,-2.9],[0.16,-4.3],[0.166,-3.9],[0.169,-5.1],[0.173,-6.1],[0.1765,-3.2],[0.255,-7.7],[0.294,-7.8],[0.145,-3.6],[0.15,-4.0],[0.0325,-0.9],[0.0425,-1.1],[0.0525,-1.4],[0.0625,-1.7],[0.0725,-1.9],[0.0825,-2.2],[0.0925,-2.4],[0.1025,-2.6],[0.115,-2.8],[0.12,-2.3],[0.125,-3.4],[0.135,-2.8],[0.145,-2.9],[0.16,-3.2],[0.165,-4.6],[0.155,-3.6]];

const groupColors = ["#cdcdcd", "#a2a2a2", "#6a6a6a", "#000000"];

// Panel table built from the arrays (row = season, col = level)
const pointSets = [
  [[springSurfG1, springSurfG2, springSurfG3, springSurfG4], [springToaG1, springToaG2, springToaG3, springToaG4]],
  [[summerSurfG1, summerSurfG2, summerSurfG3, summerSurfG4], [summerToaG1, summerToaG2, summerToaG3, summerToaG4]],
  [[autumnSurfG1, autumnSurfG2, autumnSurfG3, autumnSurfG4], [autumnToaG1, autumnToaG2, autumnToaG3, autumnToaG4]],
  [[winterSurfG1, winterSurfG2, winterSurfG3, winterSurfG4], [winterToaG1, winterToaG2, winterToaG3, winterToaG4]]
];

// ---------------- LAYOUT ----------------
const colLeft = [82.3, 499];
const rowTop0 = 44.3, rowPitch = 375.3;
const boxW = 305.3, boxH = 248;
const xDomain = [0, 0.652];
const yDomain = [-31.6, 11.6];
// legend placement: [anchor edge, right-edge offset, vertical offset of centre from that edge]
const legendLayout = [
  [["top", -7, 18.7], ["bottom", -22, -15]],
  [["top", -6, 19.7], ["bottom", -7.5, -20.3]],
  [["top", -6, 18.3], ["bottom", -9, -18]],
  [["top", -6, 19.8], ["bottom", -7.5, -18.2]]
];
const fontMain = 21.3;
const fontLegend = 16;
const ptSize = 6;

const svg = d3.select("#chart");
svg.append("rect").attr("width", 800).attr("height", 1484).attr("fill", "#fff");

seasons.forEach((season, r) => {
  levels.forEach((level, c) => {
    const bx = colLeft[c], by = rowTop0 + r * rowPitch;
    const x = d3.scaleLinear().domain(xDomain).range([bx, bx + boxW]);
    const y = d3.scaleLinear().domain(yDomain).range([by + boxH, by]);
    const g = svg.append("g");
    const clipId = `clip-${r}-${c}`;
    g.append("clipPath").attr("id", clipId).append("rect")
      .attr("x", bx).attr("y", by).attr("width", boxW).attr("height", boxH);

    // regression line (abline through origin), under the points
    const slope = slopes[r][c];
    g.append("line").attr("clip-path", `url(#${clipId})`)
      .attr("x1", x(0)).attr("y1", y(0))
      .attr("x2", x(xDomain[1])).attr("y2", y(slope * xDomain[1]))
      .attr("stroke", c === 0 ? "#555" : "#2a2a2a").attr("stroke-width", 1.4);

    // points
    const pg = g.append("g");
    pointSets[r][c].forEach((pts, gi) => {
      pg.selectAll(null).data(pts).enter().append("rect")
        .attr("x", d => x(d[0]) - ptSize / 2).attr("y", d => y(d[1]) - ptSize / 2)
        .attr("width", ptSize).attr("height", ptSize)
        .attr("fill", groupColors[gi]);
    });

    // box
    g.append("rect").attr("x", bx).attr("y", by).attr("width", boxW).attr("height", boxH)
      .attr("fill", "none").attr("stroke", "#3a3a3a").attr("stroke-width", 1.3);

    // x axis
    const xAxis = d3.axisBottom(x).tickValues(xTicks).tickSize(7).tickSizeOuter(0)
      .tickFormat((d, i) => xTickLabels[i]);
    const xa = g.append("g").attr("transform", `translate(0,${by + boxH})`).call(xAxis);
    xa.select(".domain").attr("d", `M${x(xTicks[0])},0H${x(xTicks[xTicks.length - 1])}`)
      .attr("stroke", "#000").attr("stroke-width", 1.5);
    xa.selectAll(".tick line").attr("stroke", "#000").attr("stroke-width", 1.2);
    xa.selectAll(".tick text").attr("y", 17).attr("dy", "0.71em")
      .attr("font-size", fontMain).attr("font-family", null).attr("fill", "#000");

    // y axis
    const yAxis = d3.axisLeft(y).tickValues(yTicks).tickSize(7).tickSizeOuter(0)
      .tickFormat((d, i) => yTickLabels[i]);
    const ya = g.append("g").attr("transform", `translate(${bx},0)`).call(yAxis);
    ya.select(".domain").attr("d", `M0,${y(yTicks[0])}V${y(yTicks[yTicks.length - 1])}`)
      .attr("stroke", "#000").attr("stroke-width", 1.5);
    ya.selectAll(".tick line").attr("stroke", "#000").attr("stroke-width", 1.2);
    ya.selectAll(".tick text")
      .attr("x", null).attr("dy", null).attr("y", null)
      .attr("transform", "translate(-19,0) rotate(-90)")
      .attr("text-anchor", "middle")
      .attr("font-size", fontMain).attr("font-family", null).attr("fill", "#000");

    // title
    g.append("text").attr("x", bx + boxW / 2).attr("y", by - 13.8)
      .attr("text-anchor", "middle").attr("font-weight", "bold")
      .attr("font-size", fontMain).text(`${season} (${level})`);

    // axis titles
    g.append("text").attr("x", bx + boxW / 2).attr("y", by + boxH + 62)
      .attr("text-anchor", "middle").attr("font-size", fontMain).text(xTitle);
    const yt = g.append("text")
      .attr("transform", `translate(${bx - 51},${by + boxH / 2}) rotate(-90)`)
      .attr("text-anchor", "middle").attr("font-size", fontMain);
    yt.append("tspan").text(yTitle);
    yt.append("tspan").attr("font-size", fontMain * 0.7).attr("dy", -8).text(yTitleSup);
    yt.append("tspan").attr("dy", 8).text(")");

    // legend
    const [edge, dxr, dyc] = legendLayout[r][c];
    const cy = (edge === "top" ? by : by + boxH) + dyc;
    const tx = bx + boxW + dxr;
    const lt = g.append("text").attr("x", tx).attr("y", cy + 5.6)
      .attr("text-anchor", "end").attr("font-size", fontLegend).attr("fill", "#111")
      .text(legendLabels[r][c]);
    const tw = lt.node().getComputedTextLength();
    const ts = tx - tw;
    g.append("line").attr("x1", ts - 42).attr("x2", ts - 12).attr("y1", cy).attr("y2", cy)
      .attr("stroke", "#8a8a8a").attr("stroke-width", 2);
  });
});
</script>
</body></html>
